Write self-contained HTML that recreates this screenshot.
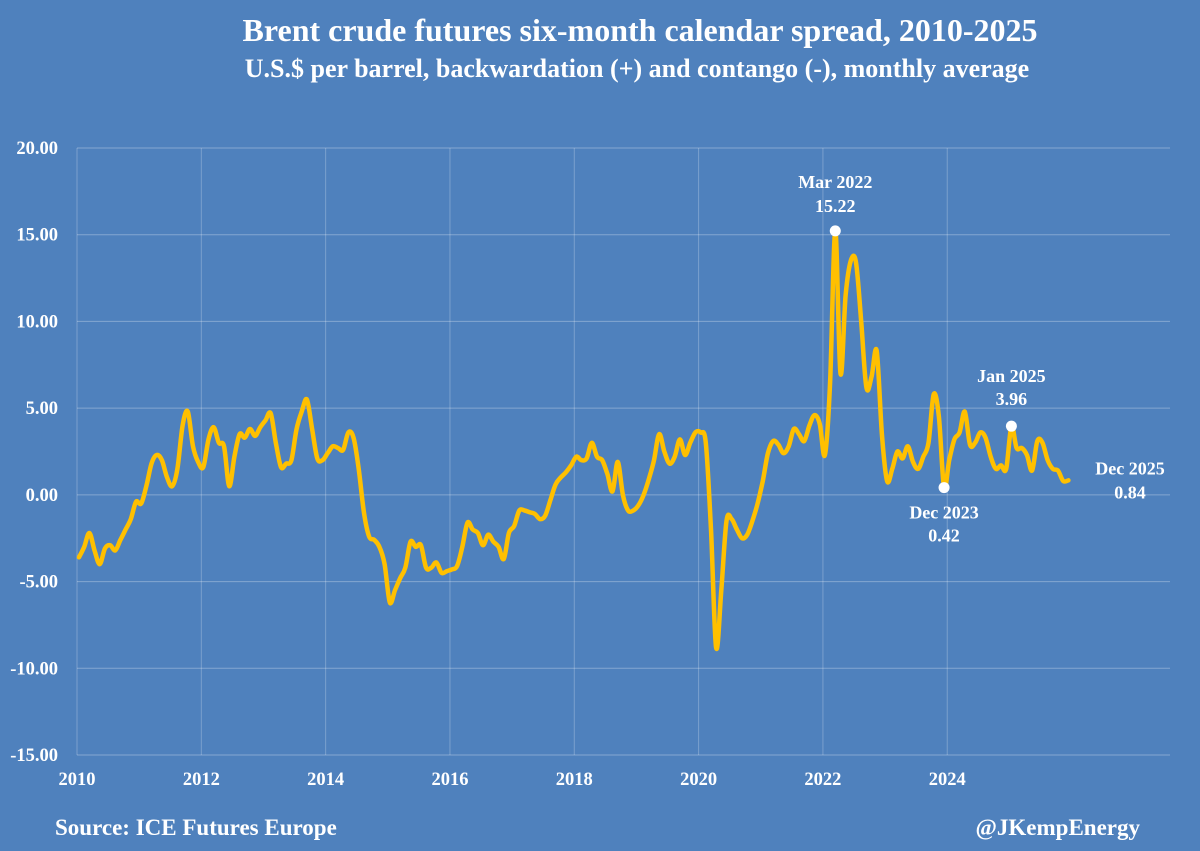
<!DOCTYPE html>
<html><head><meta charset="utf-8"><style>
html,body{margin:0;padding:0;background:#4F81BD;}
svg{display:block;font-family:"Liberation Serif",serif;font-weight:bold;fill:#fff;}
</style></head><body>
<svg id="chart" width="1200" height="851" viewBox="0 0 1200 851" xmlns="http://www.w3.org/2000/svg">
<rect width="1200" height="851" fill="#4F81BD"/>
<text x="640" y="41" text-anchor="middle" font-size="32">Brent crude futures six-month calendar spread, 2010-2025</text>
<text x="637" y="77" text-anchor="middle" font-size="26">U.S.$ per barrel, backwardation (+) and contango (-), monthly average</text>
<g id="grid"></g>
<g id="yticks"></g>
<g id="xticks"></g>
<path id="line" fill="none" stroke="#FFC000" stroke-width="4.5" stroke-linejoin="round" stroke-linecap="round"/>
<g id="ann"></g>
<text x="55" y="835" font-size="23">Source: ICE Futures Europe</text>
<text x="1140" y="835" text-anchor="end" font-size="23">@JKempEnergy</text>
</svg>
<script>
const yTicks = [20, 15, 10, 5, 0, -5, -10, -15];
const yTickLabels = ["20.00","15.00","10.00","5.00","0.00","-5.00","-10.00","-15.00"];
const xYears = [2010, 2012, 2014, 2016, 2018, 2020, 2022, 2024];
const startYear = 2010;
const spread2010 = [-3.6,-3.0,-2.2,-3.2,-4.0,-3.1,-2.9,-3.2,-2.6,-2.0,-1.4,-0.4];
const spread2011 = [-0.5,0.5,1.8,2.3,2.0,1.0,0.5,1.5,4.0,4.8,2.8,1.9];
const spread2012 = [1.6,3.2,3.9,3.0,2.8,0.5,2.2,3.5,3.3,3.8,3.4,3.9];
const spread2013 = [4.3,4.7,3.0,1.6,1.8,2.0,3.8,4.8,5.5,3.8,2.1,2.0];
const spread2014 = [2.4,2.8,2.7,2.6,3.6,3.3,1.5,-1.0,-2.4,-2.6,-3.0,-4.0];
const spread2015 = [-6.2,-5.5,-4.8,-4.2,-2.7,-3.0,-2.9,-4.2,-4.2,-3.9,-4.5,-4.4];
const spread2016 = [-4.3,-4.1,-3.0,-1.6,-2.0,-2.2,-2.9,-2.3,-2.7,-3.0,-3.7,-2.2];
const spread2017 = [-1.8,-0.9,-0.9,-1.0,-1.1,-1.4,-1.2,-0.3,0.6,1.0,1.3,1.7];
const spread2018 = [2.2,2.0,2.1,3.0,2.2,2.0,1.2,0.2,1.9,0.0,-0.9,-0.9];
const spread2019 = [-0.6,0.0,0.9,2.0,3.5,2.5,1.8,2.2,3.2,2.3,3.0,3.6];
const spread2020 = [3.6,3.0,-2.0,-8.8,-5.5,-1.5,-1.4,-2.0,-2.5,-2.3,-1.5,-0.5];
const spread2021 = [0.8,2.4,3.1,2.9,2.4,2.8,3.8,3.5,3.1,4.0,4.6,4.1];
const spread2022 = [2.3,6.5,15.22,7.0,11.5,13.5,13.4,10.0,6.2,6.8,8.3,3.5];
const spread2023 = [0.8,1.5,2.5,2.1,2.8,1.9,1.5,2.2,3.0,5.8,4.5,0.42];
const spread2024 = [2.0,3.2,3.6,4.8,2.9,3.0,3.6,3.3,2.2,1.5,1.7,1.5];
const spread2025 = [3.96,2.7,2.7,2.3,1.4,3.1,3.0,2.0,1.5,1.4,0.8,0.84];
const annLabels = ["Mar 2022","Dec 2023","Jan 2025","Dec 2025"];
const annIndex = [146, 167, 180, 191];

const values = [].concat(spread2010,spread2011,spread2012,spread2013,spread2014,spread2015,spread2016,spread2017,spread2018,spread2019,spread2020,spread2021,spread2022,spread2023,spread2024,spread2025);
const NS = "http://www.w3.org/2000/svg";
const L = 77, R = 1170, T = 148, B = 755, MSTEP = 5.18, X0 = 79;
const yScale = v => B - (v + 15) / 35 * (B - T);
const xScale = i => X0 + i * MSTEP;
const xYear = y => L + (y - startYear) * 12 * MSTEP;
function mk(tag, attrs, parent){const e=document.createElementNS(NS,tag);for(const k in attrs)e.setAttribute(k,attrs[k]);parent.appendChild(e);return e;}
const grid=document.getElementById('grid'), yt=document.getElementById('yticks'), xt=document.getElementById('xticks');
yTicks.forEach((v,k)=>{
  const ln=mk('line',{x1:L,x2:R,y1:yScale(v),y2:yScale(v),stroke:'rgba(255,255,255,0.3)','stroke-width':1},grid);
  
  
  const t=mk('text',{x:58,y:yScale(v)+6,'text-anchor':'end','font-size':18.5},yt);
  t.textContent=yTickLabels[k];
  
  
});
xYears.forEach(y=>{
  const x=xYear(y);
  const ln=mk('line',{x1:x,x2:x,y1:T,y2:B,stroke:'rgba(255,255,255,0.25)','stroke-width':1},grid);
  
  
  const t=mk('text',{x:x,y:785,'text-anchor':'middle','font-size':18.5},xt);
  t.textContent=String(y);
  
  
});
const pts=values.map((v,i)=>[xScale(i),yScale(v)]);
let d='M'+pts[0][0]+','+pts[0][1];
for(let i=0;i<pts.length-1;i++){
  const p0=pts[Math.max(0,i-1)],p1=pts[i],p2=pts[i+1],p3=pts[Math.min(pts.length-1,i+2)];
  const c1=[p1[0]+(p2[0]-p0[0])/6,p1[1]+(p2[1]-p0[1])/6];
  const c2=[p2[0]-(p3[0]-p1[0])/6,p2[1]-(p3[1]-p1[1])/6];
  d+=' C'+c1[0].toFixed(1)+','+c1[1].toFixed(1)+' '+c2[0].toFixed(1)+','+c2[1].toFixed(1)+' '+p2[0].toFixed(1)+','+p2[1].toFixed(1);
}
document.getElementById('line').setAttribute('d',d);
const ann=document.getElementById('ann');
annIndex.forEach((idx,k)=>{
  const x=xScale(idx), y=yScale(values[idx]);
  let tx=x, ty1, ty2, anchor='middle';
  if(k===0){ty1=y-43;ty2=y-19;}
  else if(k===1){ty1=y+31;ty2=y+54;}
  else if(k===2){ty1=y-44;ty2=y-21;}
  else {tx=1130;ty1=y-6;ty2=y+18;}
  if(k!==3){
    const c=mk('circle',{cx:x,cy:y,r:5.5,fill:'#fff'},ann);
    
    
  }
  const t1=mk('text',{x:tx,y:ty1,'text-anchor':anchor,'font-size':18},ann);
  t1.textContent=annLabels[k];
  
  
  const t2=mk('text',{x:tx,y:ty2,'text-anchor':anchor,'font-size':18},ann);
  t2.textContent=values[idx].toFixed(2);
  
  
});
</script>
</body></html>
